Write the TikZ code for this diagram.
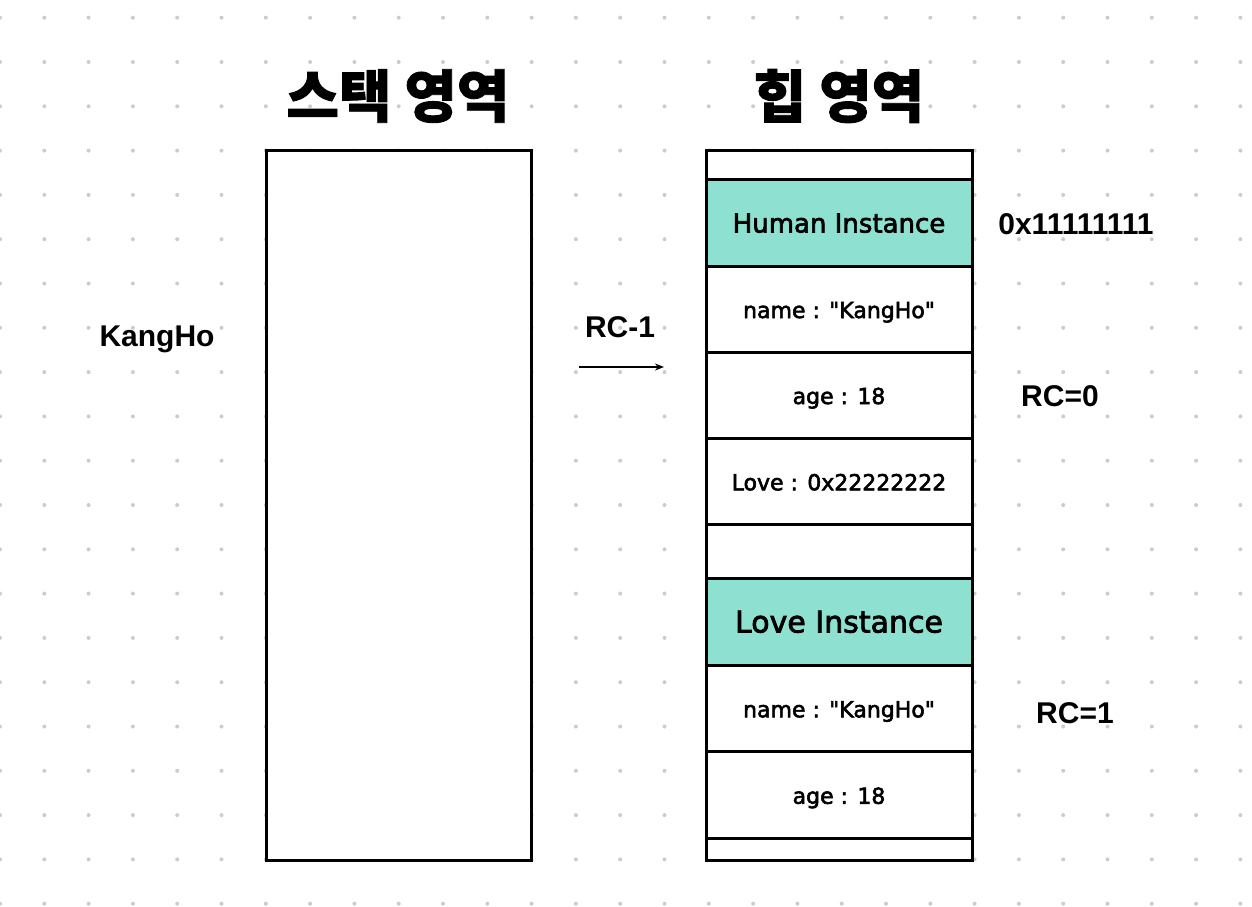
\documentclass[tikz,border=0pt]{standalone}
\usepackage{fontspec}
\setmainfont{DejaVu Sans}
\newfontfamily\cellfont{DejaVu Sans}[FakeBold=2.5]
\newfontfamily\krfont{Noto Sans CJK KR}[BoldFeatures={FakeBold=1.5}]
\newfontfamily\labfont{Liberation Sans}
\usetikzlibrary{arrows.meta}
\definecolor{dotgray}{HTML}{CCCCCC}
\definecolor{insteal}{HTML}{8EE1D0}
\newcommand{\qt}[1]{\textquotedbl#1\textquotedbl}

\begin{document}
\begin{tikzpicture}[x=1pt, y=-1pt,
    box/.style={draw, line width=3pt, fill=white, minimum width=266pt, inner sep=0pt},
    cell/.style={box, font=\cellfont\fontsize{22}{25}\selectfont, text height=18pt, text depth=0pt},
    inst/.style={box, fill=insteal},
    title/.style={font=\krfont\bfseries\fontsize{57}{62}\selectfont},
    lab/.style={font=\labfont\bfseries\fontsize{30}{34}\selectfont, anchor=base}]
      \useasboundingbox[fill=white] (0,0) rectangle (1252,906);
      \foreach \i in {0,...,28}
        \foreach \j in {0,...,20}
          \fill[dotgray] (\i*44.3, 17.7+\j*44.3) circle[radius=2pt];

      \node[title] (st) at (398, 96) {스택 영역};
      \node[title] (hp) at (839, 96) {힙 영역};

      \node[box, minimum width=265pt, minimum height=710pt] (stack) at (398.5, 505) {};

      \node[box, minimum height=29pt] (h0) at (839, 164.5) {};
      \node[inst, minimum height=87pt, font=\cellfont\fontsize{26}{30}\selectfont, text height=20pt, text depth=0pt] (h1) at (839, 222.5) {Human Instance};
      \node[cell, minimum height=86pt] (h2) at (839, 309) {name : \qt{KangHo}};
      \node[cell, minimum height=86pt] (h3) at (839, 395) {age : 18};
      \node[cell, minimum height=86.5pt] (h4) at (839, 481.25) {Love : 0x22222222};
      \node[box, minimum height=53.5pt] (h5) at (839, 551.25) {};
      \node[inst, minimum height=87pt, font=\cellfont\fontsize{30}{34}\selectfont, text height=22pt, text depth=0pt] (l1) at (839, 621.5) {Love Instance};
      \node[cell, minimum height=86.5pt] (l2) at (839, 708.25) {name : \qt{KangHo}};
      \node[cell, minimum height=86.5pt] (l3) at (839, 794.75) {age : 18};
      \node[box, minimum height=22pt] (l4) at (839, 849) {};

      \node[lab] (kh) at (157, 346.5) {KangHo};
      \node[lab] (rc) at (620, 337) {RC-1};
      \node[lab] (addr) at (1076, 234) {0x11111111};
      \node[lab] (rc0) at (1060, 406.5) {RC=0};
      \node[lab] (rc1) at (1075, 723) {RC=1};

      \coordinate (a1) at (579, 367);
      \coordinate (a2) at (664, 367);
      \draw[-{Stealth[length=9pt, width=7pt]}, line width=1.5pt] (a1) -- (a2);
    \end{tikzpicture}
\end{document}
